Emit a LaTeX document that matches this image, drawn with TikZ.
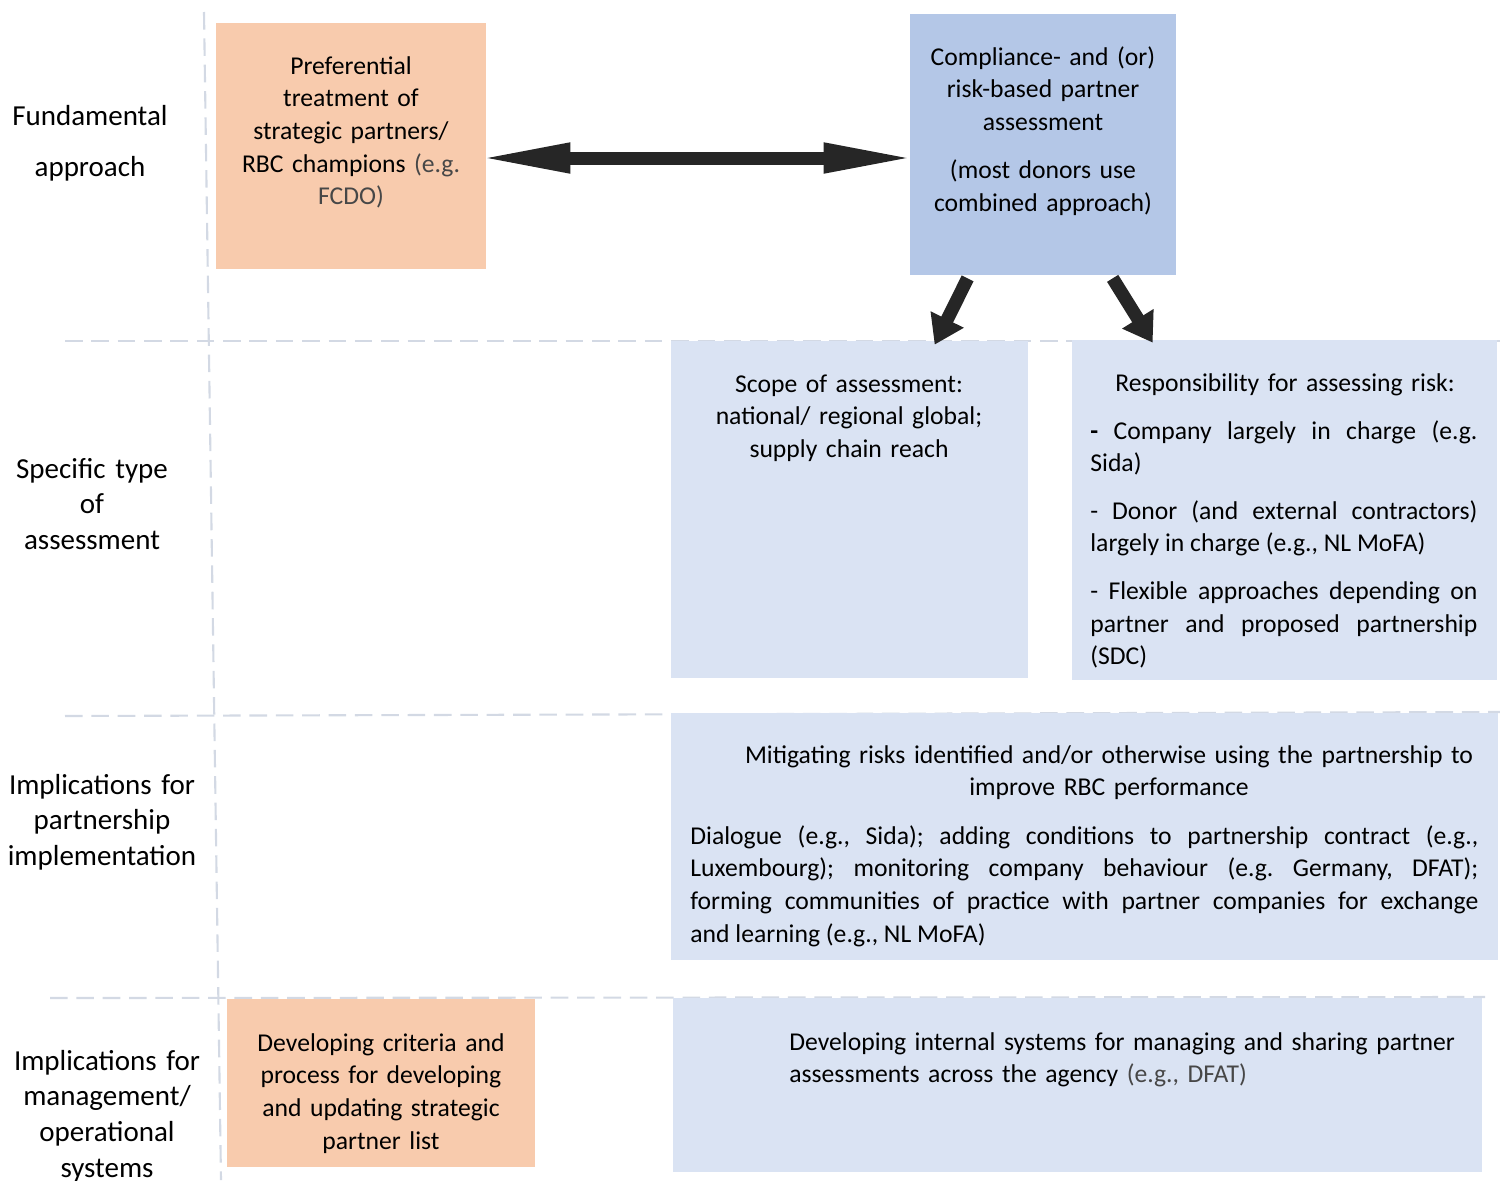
\documentclass[tikz,border=0pt]{standalone}
\usepackage{fontspec}
\setmainfont{Carlito}
\usetikzlibrary{arrows.meta,calc,fit}

\definecolor{peach}{HTML}{F8CBAD}
\definecolor{bluedark}{HTML}{B4C7E7}
\definecolor{bluelight}{HTML}{DAE3F3}
\definecolor{gridline}{HTML}{D3D9E4}
\definecolor{arrowgray}{HTML}{262626}
\definecolor{notegray}{HTML}{474747}

\frenchspacing
\tikzset{
	peachbox/.style={fill=peach, inner sep=0pt},
	bluebox/.style={fill=bluedark, inner sep=0pt},
	lightbox/.style={fill=bluelight, inner sep=0pt},
	rowline/.style={gridline, line width=1.2pt, dash pattern=on 10pt off 5pt},
	boxtext/.style={inner sep=0pt, anchor=base, font=\fontsize{14.6}{18.6}\selectfont},
	rowlabel/.style={inner sep=0pt, anchor=base, align=center, text width=5cm, font=\fontsize{16.5}{20.4}\selectfont},
	bigtip/.tip={Triangle[length=53pt,width=15.5pt]},
	slanttip/.tip={Triangle[length=16pt,width=20pt]}
}

\begin{document}
\begin{tikzpicture}[x=0.02cm, y=-0.02cm]
	\useasboundingbox (0,0) rectangle (1500,1180);

	% row separators
	\draw [rowline] (204,12) -- (221,1180);
	\draw [rowline] (65,341) -- (1500,341);
	\draw [rowline] (65,716) -- (1500,712);
	\draw [rowline] (50,998) -- (1485,997);

	% row labels
	\node [rowlabel] (lbl-fund) at (90,125) {Fundamental\\[9pt]approach};
	\node [rowlabel] (lbl-type) at (92,478) {Specific type\\of\\assessment};
	\node [rowlabel] (lbl-impl) at (102,794) {Implications for\\partnership\\implementation};
	\node [rowlabel] (lbl-mgmt) at (107,1070) {Implications for\\management/\\operational\\systems};

	% boxes
	\node [peachbox, fit={(216,23) (486,269)}] (pref) {};
	\node [bluebox, fit={(910,14) (1176,275)}] (comp) {};
	\node [lightbox, fit={(671,341) (1028,678)}] (scope) {};
	\node [lightbox, fit={(1072,340) (1497,680)}] (resp) {};
	\node [lightbox, fit={(671,713) (1498,960)}] (mitig) {};
	\node [peachbox, fit={(227,999) (535,1167)}] (crit) {};
	\node [lightbox, fit={(673,998) (1482,1172)}] (intern) {};

	% box texts
	\node [boxtext, align=center, text width=260*0.02cm] (pref-txt) at (351,74)
		{Preferential\\treatment of\\strategic partners/\\RBC champions {\color{notegray}(e.g.\\FCDO)}};
	\node [boxtext, align=center, text width=260*0.02cm] (comp-txt) at (1043,65)
		{Compliance- and (or)\\risk-based partner\\assessment\\[9pt](most donors use\\combined approach)};
	\node [boxtext, align=center, text width=340*0.02cm] (scope-txt) at (849,392)
		{Scope of assessment:\\national/ regional global;\\supply chain reach};
	\node [boxtext, align=center, text width=400*0.02cm] (resp-title) at (1285,391)
		{Responsibility for assessing risk:};
	\node [boxtext, anchor=base west, align=justify, text width=387*0.02cm] (resp-txt) at (1090,439)
		{\setlength{\parskip}{8.5pt}\textbf{-} Company largely in charge (e.g.\linebreak Sida)\par
		- Donor (and external contractors)\linebreak largely in charge (e.g., NL MoFA)\par
		- Flexible approaches depending on\linebreak partner and proposed partnership\linebreak (SDC)};
	\node [boxtext, align=center, text width=780*0.02cm] (mitig-title) at (1109,763)
		{Mitigating risks identified and/or otherwise using the partnership to\\improve RBC performance};
	\node [boxtext, anchor=base west, align=justify, text width=788*0.02cm] (mitig-txt) at (690,844)
		{Dialogue (e.g., Sida); adding conditions to partnership contract (e.g.,\linebreak
		Luxembourg); monitoring company behaviour (e.g. Germany, DFAT);\linebreak
		forming communities of practice with partner companies for exchange\linebreak
		and learning (e.g., NL MoFA)};
	\node [boxtext, align=center, text width=300*0.02cm] (crit-txt) at (381,1051)
		{Developing criteria and\\process for developing\\and updating strategic\\partner list};
	\node [boxtext, anchor=base west, align=left, text width=690*0.02cm] (intern-txt) at (789,1050)
		{Developing internal systems for managing and sharing partner\\assessments across the agency {\color{notegray}(e.g., DFAT)}};

	% arrows
	\draw [arrowgray, line width=7.4pt, {bigtip}-{bigtip}] ($(pref.east)+(-9,12)$) -- ($(comp.west)+(7,13.5)$);
	\draw [arrowgray, line width=7.5pt, -{slanttip}] ($(comp.south west)+(58,3)$) -- ($(scope.north west)+(264,4)$);
	\draw [arrowgray, line width=7.5pt, -{slanttip}] ($(comp.south west)+(203,3)$) -- ($(resp.north west)+(81,3)$);
\end{tikzpicture}
\end{document}
